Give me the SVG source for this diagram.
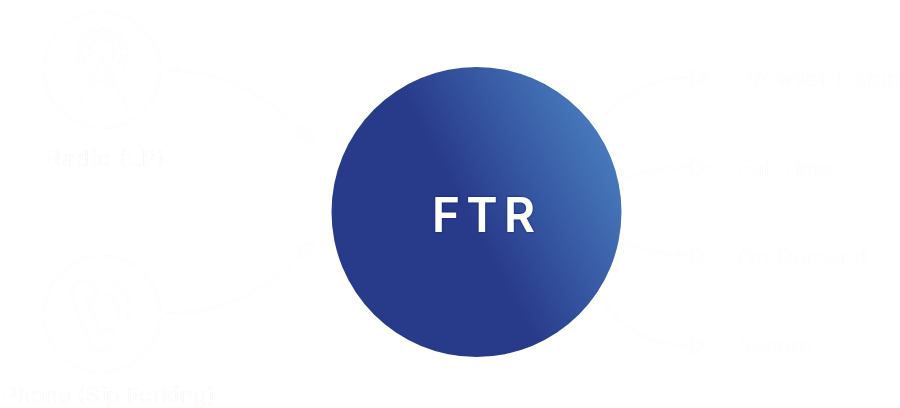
<svg xmlns="http://www.w3.org/2000/svg" width="900" height="408" viewBox="0 0 900 408">
<defs>
<linearGradient id="ball" x1="0.1" y1="0.72" x2="1" y2="0.24">
<stop offset="0" stop-color="#283a8a"/>
<stop offset="0.41" stop-color="#283a8a"/>
<stop offset="1" stop-color="#4a80c2"/>
</linearGradient>
<filter id="halo" x="-10%" y="-10%" width="120%" height="120%">
<feDropShadow dx="0" dy="0" stdDeviation="0.4" flood-color="#000" flood-opacity="0.13"/>
</filter>
<filter id="labelhalo" x="-5%" y="-20%" width="110%" height="140%">
<feDropShadow dx="0" dy="0" stdDeviation="0.6" flood-color="#000" flood-opacity="0.12"/>
</filter>
<filter id="titlehalo" x="-10%" y="-20%" width="120%" height="140%">
<feDropShadow dx="0" dy="0" stdDeviation="0.8" flood-color="#0a1f70" flood-opacity="0.9"/>
</filter>
</defs>
<style>
.w{fill:none;stroke:#fff;stroke-width:2;stroke-linecap:round;stroke-linejoin:round}
.c{fill:none;stroke:#fff;stroke-width:2}
.l{font-family:"Inter","Liberation Sans",sans-serif;font-size:22px;fill:#fff}
.t{font-family:"Inter","Liberation Sans",sans-serif;font-size:47.5px;font-weight:600;fill:#fff}
</style>
<rect width="900" height="408" fill="#fff"/>
<g id="connectors" filter="url(#halo)">
<path class="c" d="M161,70 C212,70 255,85 306,134"/>
<path class="c" d="M295,135 L312.7,140.7 L308,124 Z"/>
<path class="c" d="M161,314 C212,314 262,298 306,250"/>
<path class="c" d="M296.7,246 L312.7,243.3 L306,259.3 Z"/>
<path class="c" d="M600,123 C618,98 648,77 692,77"/>
<path class="c" d="M691.7,69.3 L708,77.3 L691.7,86 Z"/>
<path class="c" d="M622,181.5 C640,172 665,166.5 692,166.5"/>
<path class="c" d="M691.7,158.3 L708,166.7 L691.7,176 Z"/>
<path class="c" d="M622,240 C640,249 665,255 692,255"/>
<path class="c" d="M691.7,247.3 L706,255 L691.7,263.3 Z"/>
<path class="c" d="M602,301 C622,328 652,346 692,346"/>
<path class="c" d="M691.7,337.3 L706,345.7 L691.7,354 Z"/>
</g>
<g id="node-ftr">
<circle cx="476.5" cy="212" r="145" fill="url(#ball)"/>
<text class="t" x="432" y="232" textLength="103" filter="url(#titlehalo)">FTR</text>
</g>
<g id="node-radio" filter="url(#halo)">
<circle class="c" cx="102" cy="70" r="58"/>
<path class="w" d="M86,64 A20,20 0 1 1 118,64 M81,67 A25,25 0 1 1 123,67 M92,60 A13,13 0 1 1 112,60"/>
<path class="w" d="M102,57 L77,107 M102,57 L127,107 M92,74 L118,88 M112,74 L86,88 M84,92 L120,92 M82,96 L122,96"/>
<text class="l" x="47" y="166" textLength="118" filter="url(#labelhalo)">Radio (LP)</text>
</g>
<g id="node-phone" filter="url(#halo)">
<circle class="c" cx="102" cy="314" r="58"/>
<path class="w" d="M72,297 C70,288 78,281 87,280 C92,280 95,283 96,287 L98,295 L87,300 L100,333 L108,328 C113,331 116,336 115,340 C114,344 111,346 108,347 L99,350 C95,350 92,348 90,343 Z"/>
<path class="w" d="M105,293 C113,297 120,305 118,316 M112,283 C124,288 132,300 128,317"/>
<text class="l" x="3" y="403" textLength="212" filter="url(#labelhalo)">Phone (Sip Forking)</text>
</g>
<g id="node-browser" filter="url(#labelhalo)"><text class="l" x="739" y="86" textLength="161">Browser Listen</text></g>
<g id="node-fulltime" filter="url(#labelhalo)"><text class="l" x="739" y="176" textLength="93">Full Time</text></g>
<g id="node-ondemand" filter="url(#labelhalo)"><text class="l" x="738" y="265" textLength="129">On Demand</text></g>
<g id="node-secure" filter="url(#labelhalo)"><text class="l" x="738" y="353" textLength="74">Secure</text></g>
</svg>
